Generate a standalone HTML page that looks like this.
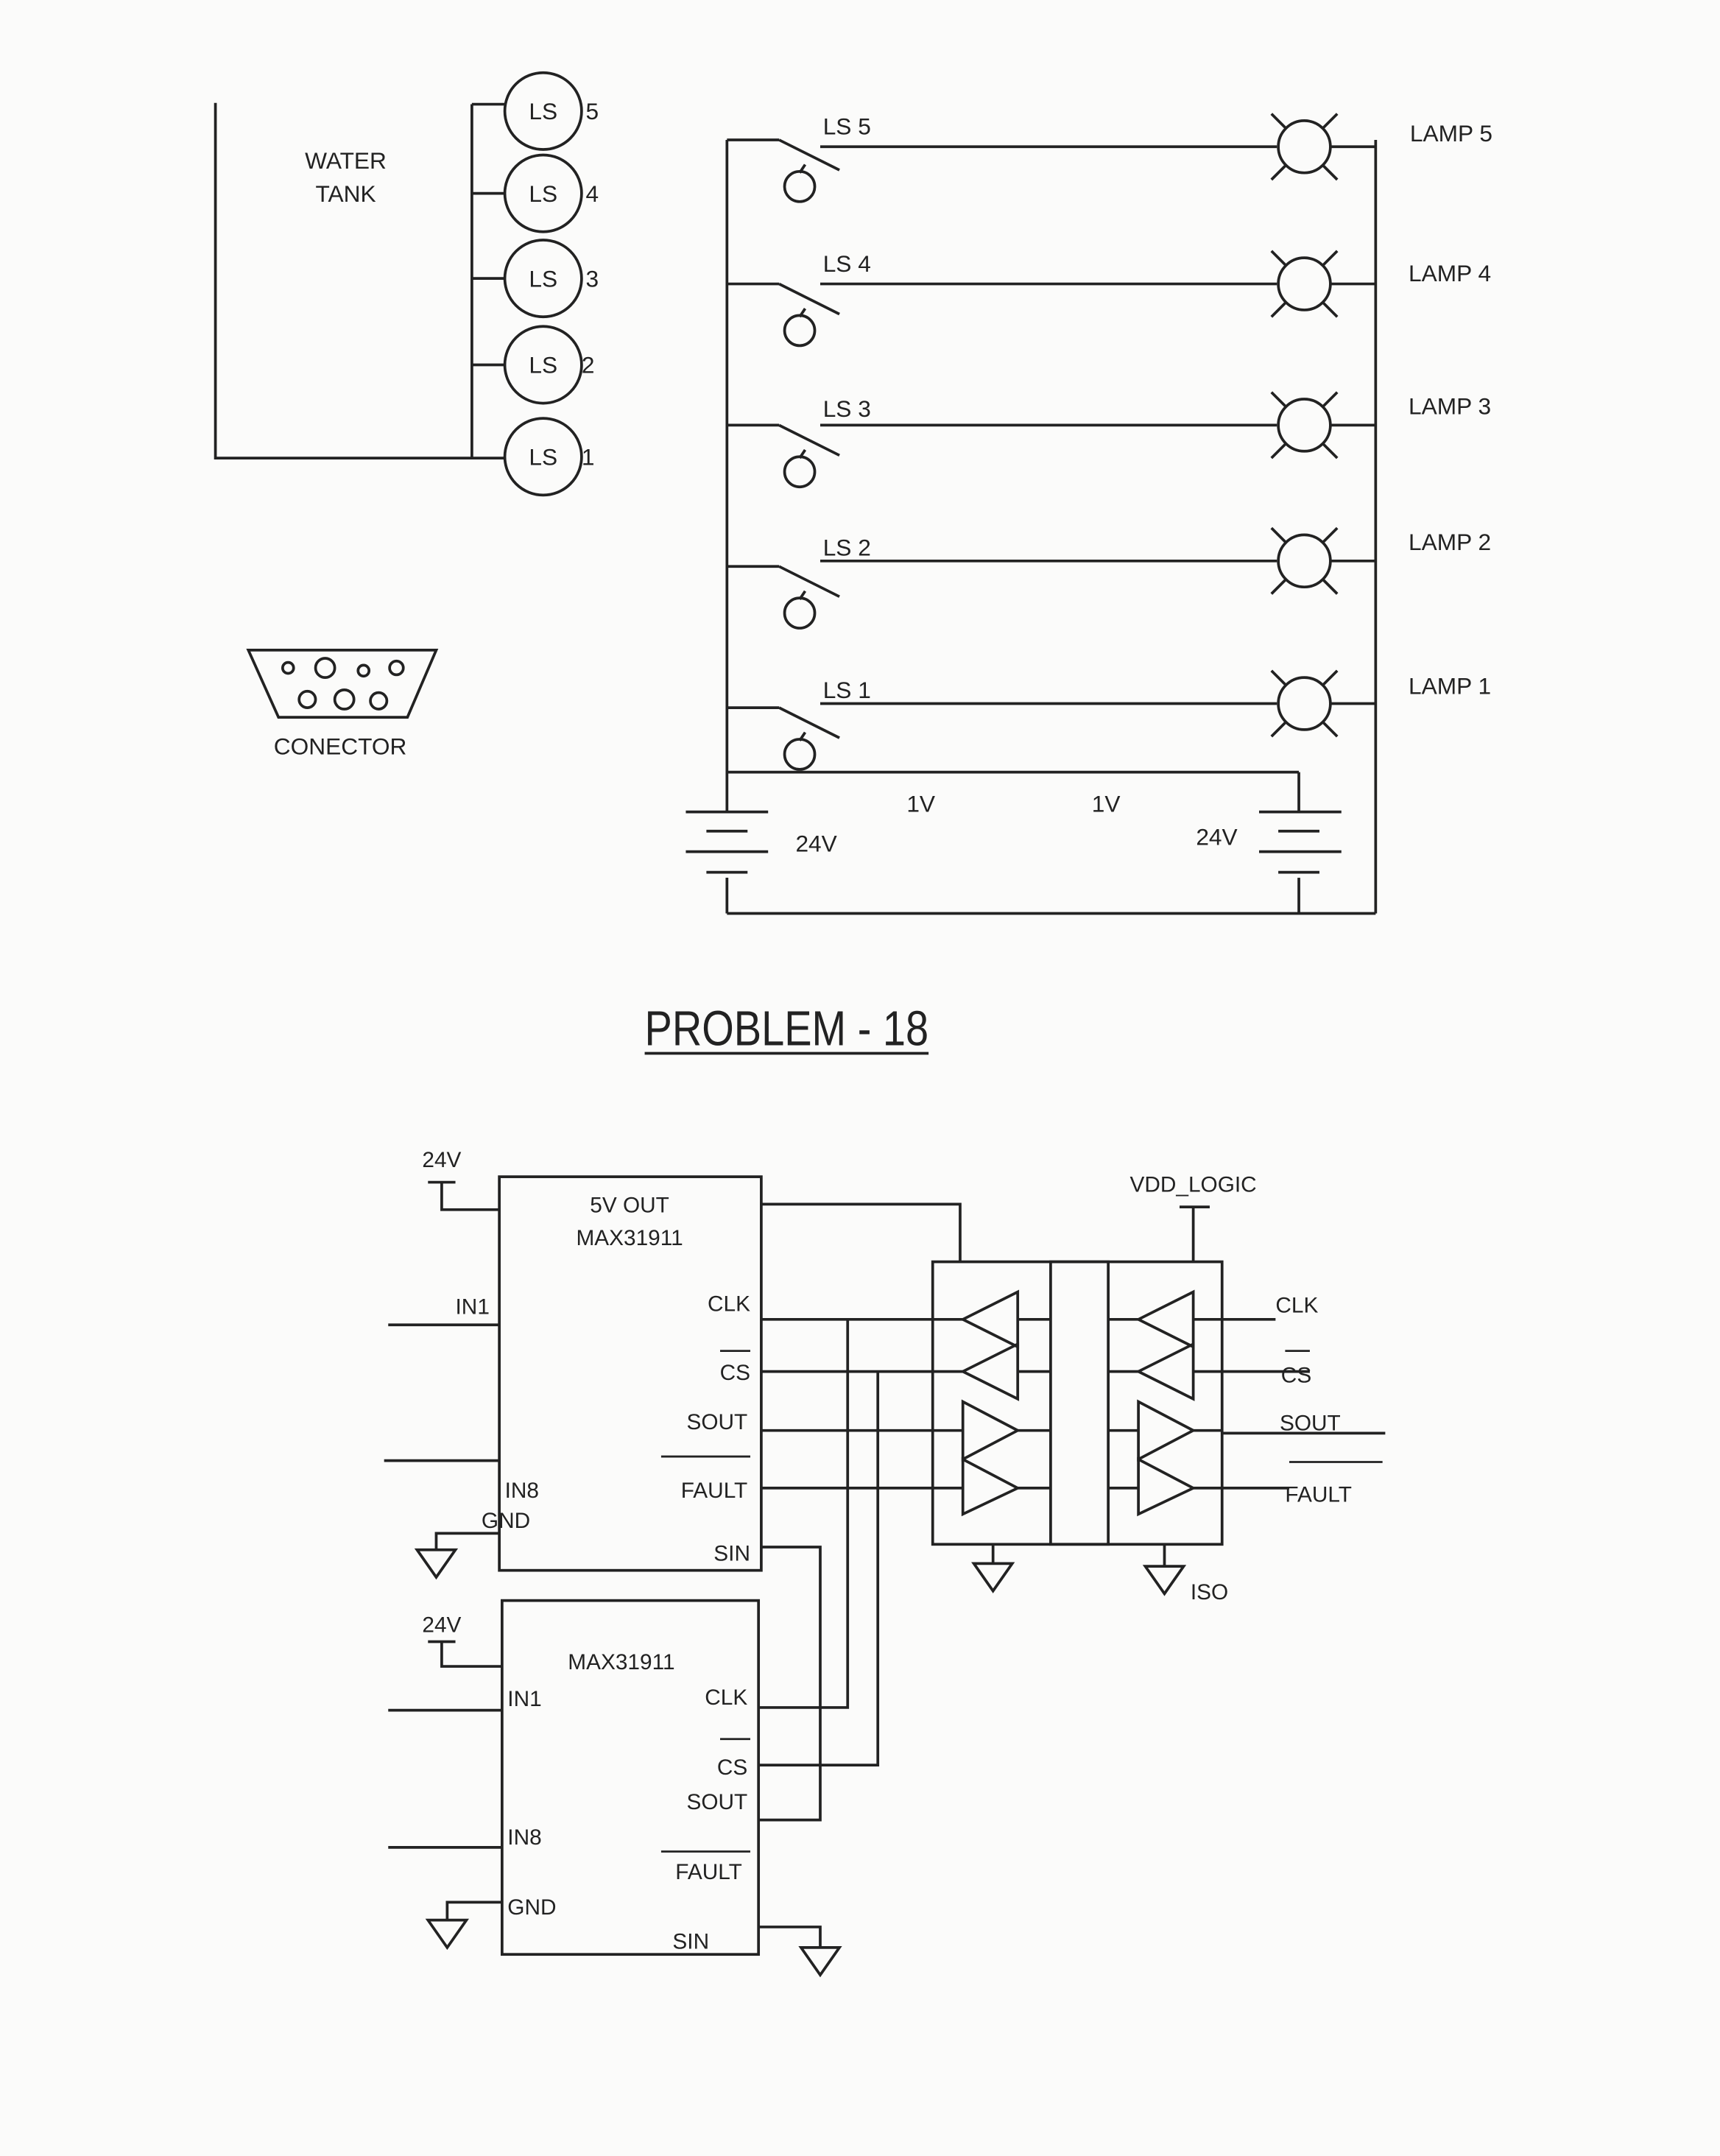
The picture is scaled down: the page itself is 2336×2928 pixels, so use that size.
<!DOCTYPE html>
<html><head><meta charset="utf-8"><style>
html,body{margin:0;padding:0;background:#fbfbfa;}
svg{display:block}
text{font-family:"Liberation Sans",sans-serif;fill:#222;}
</style></head><body>
<svg width="2336" height="2928" viewBox="0 0 1254 1572" xmlns="http://www.w3.org/2000/svg">
<rect width="1254" height="1572" fill="#fbfbfa"/>
<g stroke="#222" stroke-width="2" fill="none">
<polyline points="157,75 157,334 368,334"/>
<line x1="344" y1="76" x2="344" y2="334"/>
<line x1="344" y1="76" x2="368" y2="76"/>
<line x1="344" y1="141" x2="368" y2="141"/>
<line x1="344" y1="203" x2="368" y2="203"/>
<line x1="344" y1="266" x2="368" y2="266"/>
<circle cx="396" cy="81" r="28"/><circle cx="396" cy="141" r="28"/><circle cx="396" cy="203" r="28"/><circle cx="396" cy="266" r="28"/><circle cx="396" cy="333" r="28"/>
<polygon points="181,474 318,474 297,523 203,523"/>
<circle cx="210" cy="487" r="4"/><circle cx="237" cy="487" r="7"/><circle cx="265" cy="489" r="4"/><circle cx="289" cy="487" r="5"/>
<circle cx="224" cy="510" r="6"/><circle cx="251" cy="510" r="7"/><circle cx="276" cy="511" r="6"/>
<line x1="530" y1="102" x2="530" y2="592"/>
<line x1="1003" y1="102" x2="1003" y2="666"/>
<line x1="530" y1="563" x2="947" y2="563"/>
<line x1="947" y1="563" x2="947" y2="592"/>
<line x1="530" y1="640" x2="530" y2="666"/><line x1="530" y1="666" x2="1003" y2="666"/>
<line x1="947" y1="640" x2="947" y2="666"/>
<line x1="500" y1="592" x2="560" y2="592"/><line x1="515" y1="606" x2="545" y2="606"/><line x1="500" y1="621" x2="560" y2="621"/><line x1="515" y1="636" x2="545" y2="636"/>
<line x1="918" y1="592" x2="978" y2="592"/><line x1="932" y1="606" x2="962" y2="606"/><line x1="918" y1="621" x2="978" y2="621"/><line x1="932" y1="636" x2="962" y2="636"/>
</g>
<g stroke="#222" stroke-width="2" fill="none">
<g transform="translate(0,102)"><line x1="530" y1="0" x2="568" y2="0"/><line x1="568" y1="0" x2="612" y2="22"/><line x1="587" y1="18" x2="583" y2="24"/><circle cx="583" cy="34" r="11"/><line x1="598" y1="5" x2="931" y2="5"/><line x1="927" y1="-19" x2="975" y2="29"/><line x1="975" y1="-19" x2="927" y2="29"/><circle cx="951" cy="5" r="19" fill="#fbfbfa"/><line x1="970" y1="5" x2="1003" y2="5"/></g>
<g transform="translate(0,207)"><line x1="530" y1="0" x2="568" y2="0"/><line x1="568" y1="0" x2="612" y2="22"/><line x1="587" y1="18" x2="583" y2="24"/><circle cx="583" cy="34" r="11"/><line x1="598" y1="0" x2="931" y2="0"/><line x1="927" y1="-24" x2="975" y2="24"/><line x1="975" y1="-24" x2="927" y2="24"/><circle cx="951" cy="0" r="19" fill="#fbfbfa"/><line x1="970" y1="0" x2="1003" y2="0"/></g>
<g transform="translate(0,310)"><line x1="530" y1="0" x2="568" y2="0"/><line x1="568" y1="0" x2="612" y2="22"/><line x1="587" y1="18" x2="583" y2="24"/><circle cx="583" cy="34" r="11"/><line x1="598" y1="0" x2="931" y2="0"/><line x1="927" y1="-24" x2="975" y2="24"/><line x1="975" y1="-24" x2="927" y2="24"/><circle cx="951" cy="0" r="19" fill="#fbfbfa"/><line x1="970" y1="0" x2="1003" y2="0"/></g>
<g transform="translate(0,413)"><line x1="530" y1="0" x2="568" y2="0"/><line x1="568" y1="0" x2="612" y2="22"/><line x1="587" y1="18" x2="583" y2="24"/><circle cx="583" cy="34" r="11"/><line x1="598" y1="-4" x2="931" y2="-4"/><line x1="927" y1="-28" x2="975" y2="20"/><line x1="975" y1="-28" x2="927" y2="20"/><circle cx="951" cy="-4" r="19" fill="#fbfbfa"/><line x1="970" y1="-4" x2="1003" y2="-4"/></g>
<g transform="translate(0,516)"><line x1="530" y1="0" x2="568" y2="0"/><line x1="568" y1="0" x2="612" y2="22"/><line x1="587" y1="18" x2="583" y2="24"/><circle cx="583" cy="34" r="11"/><line x1="598" y1="-3" x2="931" y2="-3"/><line x1="927" y1="-27" x2="975" y2="21"/><line x1="975" y1="-27" x2="927" y2="21"/><circle cx="951" cy="-3" r="19" fill="#fbfbfa"/><line x1="970" y1="-3" x2="1003" y2="-3"/></g>
</g>
<g font-size="17">
<text x="396" y="87" text-anchor="middle">LS</text><text x="396" y="147" text-anchor="middle">LS</text><text x="396" y="209" text-anchor="middle">LS</text><text x="396" y="272" text-anchor="middle">LS</text><text x="396" y="339" text-anchor="middle">LS</text>
<text x="427" y="87">5</text><text x="427" y="147">4</text><text x="427" y="209">3</text><text x="424" y="272">2</text><text x="424" y="339">1</text>
<text x="252" y="123" text-anchor="middle">WATER</text><text x="252" y="147" text-anchor="middle">TANK</text>
<text x="248" y="550" text-anchor="middle">CONECTOR</text>
<text x="600" y="98">LS 5</text><text x="600" y="198">LS 4</text><text x="600" y="304">LS 3</text><text x="600" y="405">LS 2</text><text x="600" y="509">LS 1</text>
<text x="1028" y="103">LAMP 5</text><text x="1027" y="205">LAMP 4</text><text x="1027" y="302">LAMP 3</text><text x="1027" y="401">LAMP 2</text><text x="1027" y="506">LAMP 1</text>
<text x="580" y="621">24V</text><text x="872" y="616">24V</text><text x="661" y="592">1V</text><text x="796" y="592">1V</text>
</g>
<text x="470" y="762" font-size="36" textLength="207" lengthAdjust="spacingAndGlyphs">PROBLEM - 18</text>
<line x1="470" y1="768" x2="677" y2="768" stroke="#222" stroke-width="2"/>
<g stroke="#222" stroke-width="2" fill="none">
<rect x="364" y="858" width="191" height="287"/>
<rect x="366" y="1167" width="187" height="258"/>
<rect x="680" y="920" width="211" height="206"/>
<rect x="766" y="920" width="42" height="206"/>
<polyline points="312,862 332,862"/><polyline points="322,862 322,882 364,882"/>
<line x1="283" y1="966" x2="364" y2="966"/><line x1="280" y1="1065" x2="364" y2="1065"/>
<polyline points="364,1118 318,1118 318,1130"/><polygon points="304,1130 332,1130 318,1150"/>
<polyline points="312,1197 332,1197"/><polyline points="322,1197 322,1215 366,1215"/>
<line x1="283" y1="1247" x2="366" y2="1247"/><line x1="283" y1="1347" x2="366" y2="1347"/>
<polyline points="366,1387 326,1387 326,1400"/><polygon points="312,1400 340,1400 326,1420"/>
<polyline points="555,878 700,878 700,920"/>
<line x1="555" y1="962" x2="680" y2="962"/><line x1="555" y1="1000" x2="680" y2="1000"/>
<line x1="555" y1="1043" x2="680" y2="1043"/><line x1="555" y1="1085" x2="680" y2="1085"/>
<polyline points="618,962 618,1245 553,1245"/><polyline points="640,1000 640,1287 553,1287"/>
<polyline points="555,1128 598,1128 598,1327 553,1327"/>
<polyline points="553,1405 598,1405 598,1420"/><polygon points="584,1420 612,1420 598,1440"/>
<line x1="860" y1="880" x2="882" y2="880"/><line x1="870" y1="880" x2="870" y2="920"/>
<line x1="891" y1="962" x2="930" y2="962"/><line x1="891" y1="1000" x2="955" y2="1000"/>
<line x1="891" y1="1045" x2="1010" y2="1045"/><line x1="891" y1="1085" x2="940" y2="1085"/>
<line x1="724" y1="1126" x2="724" y2="1140"/><polygon points="710,1140 738,1140 724,1160"/>
<line x1="849" y1="1126" x2="849" y2="1142"/><polygon points="835,1142 863,1142 849,1162"/>
<polygon points="742,942 742,982 702,962"/><polygon points="742,980 742,1020 702,1000"/>
<polygon points="702,1022 702,1064 742,1043"/><polygon points="702,1064 702,1104 742,1085"/>
<polygon points="870,942 870,982 830,962"/><polygon points="870,980 870,1020 830,1000"/>
<polygon points="830,1022 830,1064 870,1043"/><polygon points="830,1064 830,1104 870,1085"/>
<line x1="680" y1="962" x2="702" y2="962"/><line x1="742" y1="962" x2="766" y2="962"/><line x1="680" y1="1000" x2="702" y2="1000"/><line x1="742" y1="1000" x2="766" y2="1000"/>
<line x1="680" y1="1043" x2="702" y2="1043"/><line x1="742" y1="1043" x2="766" y2="1043"/><line x1="680" y1="1085" x2="702" y2="1085"/><line x1="742" y1="1085" x2="766" y2="1085"/>
<line x1="808" y1="962" x2="830" y2="962"/><line x1="870" y1="962" x2="891" y2="962"/><line x1="808" y1="1000" x2="830" y2="1000"/><line x1="870" y1="1000" x2="891" y2="1000"/>
<line x1="808" y1="1043" x2="830" y2="1043"/><line x1="870" y1="1043" x2="891" y2="1043"/><line x1="808" y1="1085" x2="830" y2="1085"/><line x1="870" y1="1085" x2="891" y2="1085"/>
<line x1="525" y1="985" x2="547" y2="985" stroke-width="1.5"/><line x1="482" y1="1062" x2="547" y2="1062" stroke-width="1.5"/>
<line x1="525" y1="1268" x2="547" y2="1268" stroke-width="1.5"/><line x1="482" y1="1350" x2="547" y2="1350" stroke-width="1.5"/>
<line x1="937" y1="985" x2="955" y2="985" stroke-width="1.5"/><line x1="940" y1="1066" x2="1008" y2="1066" stroke-width="1.5"/>
</g>
<g font-size="16">
<text x="322" y="851" text-anchor="middle">24V</text><text x="322" y="1190" text-anchor="middle">24V</text>
<text x="459" y="884" text-anchor="middle">5V OUT</text><text x="459" y="908" text-anchor="middle">MAX31911</text>
<text x="453" y="1217" text-anchor="middle">MAX31911</text>
<text x="332" y="958">IN1</text><text x="368" y="1092">IN8</text><text x="351" y="1114">GND</text>
<text x="370" y="1244">IN1</text><text x="370" y="1345">IN8</text><text x="370" y="1396">GND</text>
<text x="547" y="956" text-anchor="end">CLK</text><text x="547" y="1006" text-anchor="end">CS</text><text x="545" y="1042" text-anchor="end">SOUT</text><text x="545" y="1092" text-anchor="end">FAULT</text><text x="547" y="1138" text-anchor="end">SIN</text>
<text x="545" y="1243" text-anchor="end">CLK</text><text x="545" y="1294" text-anchor="end">CS</text><text x="545" y="1319" text-anchor="end">SOUT</text><text x="541" y="1370" text-anchor="end">FAULT</text><text x="517" y="1421" text-anchor="end">SIN</text>
<text x="870" y="869" text-anchor="middle">VDD_LOGIC</text>
<text x="930" y="957">CLK</text><text x="934" y="1008">CS</text><text x="933" y="1043">SOUT</text><text x="937" y="1095">FAULT</text><text x="868" y="1166">ISO</text>
</g>
</svg>
</body></html>
